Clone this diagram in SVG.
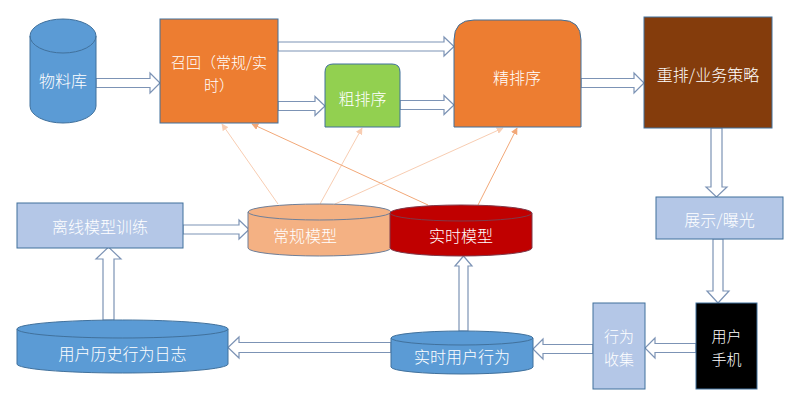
<svg xmlns="http://www.w3.org/2000/svg" width="802" height="409" viewBox="0 0 802 409">
<style>
text{font-family:"Noto Sans CJK SC","Noto Sans",sans-serif;font-size:16px;font-weight:300;fill:#ffffff;text-anchor:middle;dominant-baseline:central}
text.two{font-size:15px}
.blk{fill:#ffffff;stroke:#7C93B5;stroke-width:1.2}
.nd{stroke:#41719C;stroke-width:1}
.pale{stroke:#F8CDB2;stroke-width:1;fill:none}
.dark{stroke:#F2A878;stroke-width:1;fill:none}
</style>
<defs>
<marker id="mp" viewBox="0 0 10 10" refX="9" refY="5" markerWidth="7" markerHeight="7" orient="auto" markerUnits="userSpaceOnUse"><path d="M0,0 L10,5 L0,10 z" fill="#F8CDB2"/></marker>
<marker id="md" viewBox="0 0 10 10" refX="9" refY="5" markerWidth="7" markerHeight="7" orient="auto" markerUnits="userSpaceOnUse"><path d="M0,0 L10,5 L0,10 z" fill="#F2A878"/></marker>
</defs>
<rect width="802" height="409" fill="#ffffff"/>
<g id="connectors">
<polygon class="blk" points="96,78.5 150,78.5 150,73 160,83 150,93 150,87.5 96,87.5"/>
<polygon class="blk" points="278,42 444,42 444,37 454,46.5 444,56 444,51 278,51"/>
<polygon class="blk" points="278,101.5 315,101.5 315,96.5 325,106 315,115.5 315,110.5 278,110.5"/>
<polygon class="blk" points="400,100.5 444,100.5 444,95.5 454,105 444,114.5 444,109.5 400,109.5"/>
<polygon class="blk" points="581,78.5 634,78.5 634,73 644,83 634,93 634,87.5 581,87.5"/>
<polygon class="blk" points="711,128 722,128 722,187 727,187 716.5,197 706,187 711,187"/>
<polygon class="blk" points="713,239 723,239 723,291 729,291 718,303 707,291 713,291"/>
<polygon class="blk" points="696,343.5 655,343.5 655,338 645,348 655,358 655,352.5 696,352.5"/>
<polygon class="blk" points="593,344.5 543,344.5 543,339 533,349 543,359 543,353.5 593,353.5"/>
<polygon class="blk" points="391,342.5 239,342.5 239,337 228,347.5 239,358 239,352.5 391,352.5"/>
<polygon class="blk" points="459,331 468,331 468,266 472,266 463.5,256 455,266 459,266"/>
<polygon class="blk" points="103,320 114,320 114,259 121,259 108.5,247 96,259 103,259"/>
<polygon class="blk" points="183,225 239,225 239,220 249,229.5 239,239 239,234 183,234"/>
<line class="pale" x1="278" y1="204" x2="222" y2="124" marker-end="url(#mp)"/>
<line class="pale" x1="320" y1="204" x2="362" y2="128" marker-end="url(#mp)"/>
<line class="pale" x1="335" y1="204" x2="503" y2="128" marker-end="url(#mp)"/>
<line class="dark" x1="428" y1="205" x2="252" y2="124" marker-end="url(#md)"/>
<line class="dark" x1="478" y1="205" x2="517" y2="128" marker-end="url(#md)"/>
</g>
<g id="wuliaoku">
<path class="nd" fill="#5B9BD5" d="M30,36 A33,17 0 0 1 96,36 L96,106 A33,17 0 0 1 30,106 Z"/>
<path fill="none" stroke="#41719C" d="M30,36 A33,17 0 0 0 96,36"/>
<text x="63" y="80">物料库</text>
</g>
<g id="zhaohui">
<rect class="nd" x="160" y="19" width="118" height="104" fill="#ED7D31"/>
<text class="two"><tspan x="219" y="61">召回（常规/实</tspan><tspan x="219" y="84">时）</tspan></text>
</g>
<g id="cupaixu">
<path class="nd" fill="#92D050" d="M325,127 L325,72 Q325,64 333,64 L392,64 Q400,64 400,72 L400,127 Z"/>
<text x="362.5" y="98">粗排序</text>
</g>
<g id="jingpaixu">
<path class="nd" fill="#ED7D31" d="M454,127 L454,40 Q454,20 474,20 L561,20 Q581,20 581,40 L581,127 Z"/>
<text x="517" y="77">精排序</text>
</g>
<g id="chongpai">
<rect class="nd" x="644" y="17" width="128" height="111" fill="#843C0C"/>
<text x="708" y="74">重排/业务策略</text>
</g>
<g id="zhanshi">
<rect class="nd" x="656" y="197" width="127" height="42" fill="#B4C7E7" stroke="#8FAADC"/>
<text x="719.5" y="219">展示/曝光</text>
</g>
<g id="shouji">
<rect class="nd" x="696" y="303" width="61" height="86" fill="#000000"/>
<text class="two"><tspan x="726.5" y="335">用户</tspan><tspan x="726.5" y="358">手机</tspan></text>
</g>
<g id="xingwei_collect">
<rect class="nd" x="593" y="303" width="52" height="86" fill="#B4C7E7"/>
<text class="two"><tspan x="619" y="335">行为</tspan><tspan x="619" y="358">收集</tspan></text>
</g>
<g id="shishi_behavior">
<path class="nd" fill="#5B9BD5" d="M391,338 A71,7 0 0 1 533,338 L533,367 A71,7 0 0 1 391,367 Z"/>
<path fill="none" stroke="#41719C" d="M391,338 A71,7 0 0 0 533,338"/>
<text x="462" y="356">实时用户行为</text>
</g>
<g id="history_log">
<path class="nd" fill="#5B9BD5" d="M17,329 A105.5,9 0 0 1 228,329 L228,364 A105.5,9 0 0 1 17,364 Z"/>
<path fill="none" stroke="#41719C" d="M17,329 A105.5,9 0 0 0 228,329"/>
<text x="122.5" y="353">用户历史行为日志</text>
</g>
<g id="offline_train">
<rect class="nd" x="17" y="203" width="166" height="45" fill="#B4C7E7" stroke="#6F8DB8"/>
<text x="100" y="226">离线模型训练</text>
</g>
<g id="changgui_model">
<path fill="#F4B183" stroke="#6E7F99" d="M248,212 A71.5,8 0 0 1 391,212 L391,248 A71.5,8 0 0 1 248,248 Z"/>
<path fill="none" stroke="#6E7F99" d="M248,212 A71.5,8 0 0 0 391,212"/>
<text x="305" y="235">常规模型</text>
</g>
<g id="shishi_model">
<path fill="#C00000" stroke="#7E3A4A" d="M390,213 A71,8 0 0 1 532,213 L532,248 A71,8 0 0 1 390,248 Z"/>
<path fill="none" stroke="#7E3A4A" d="M390,213 A71,8 0 0 0 532,213"/>
<text x="461" y="235">实时模型</text>
</g>
</svg>
